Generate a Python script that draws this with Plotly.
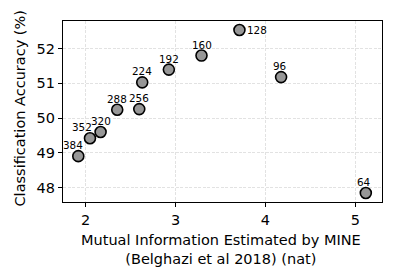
import plotly.graph_objects as go

mi = [3.711, 3.289, 2.926, 2.630, 4.174, 2.352, 2.597, 2.167, 2.049, 1.919, 5.116]
acc = [52.535, 51.80, 51.396, 51.03, 51.18, 50.24, 50.26, 49.60, 49.42, 48.905, 47.845]
labels = ["128", "160", "192", "224", "96", "288", "256", "320", "352", "384", "64"]

x_title = "Mutual Information Estimated by MINE<br>(Belghazi et al 2018) (nat)"
y_title = "Classification Accuracy (%)"

# label offsets in pixels (style only)
offsets = {"128": (18, 0), "352": (-8, 11), "384": (-5, 11), "96": (-2, 11), "64": (-2, 11)}

FONT = "DejaVu Sans"

fig = go.Figure()
fig.add_trace(go.Scatter(
    x=mi, y=acc, mode="markers",
    marker=dict(size=11, color="#979797", line=dict(color="black", width=1.6)),
    hoverinfo="skip", showlegend=False))

for xv, yv, lab in zip(mi, acc, labels):
    dx, dy = offsets.get(lab, (0, 11))
    fig.add_annotation(x=xv, y=yv, text=lab, showarrow=False,
                       xshift=dx, yshift=dy,
                       font=dict(size=10.4, color="black", family=FONT))

axis_common = dict(
    showline=True, linecolor="black", linewidth=1.3, mirror=True,
    ticks="outside", ticklen=4, tickwidth=1.1, tickcolor="black",
    showgrid=True, gridcolor="#e2e2e2", griddash="3px,1.5px", gridwidth=1,
    zeroline=False, automargin=False,
    tickfont=dict(size=14.5, family=FONT, color="black"),
)

fig.update_xaxes(range=[1.749, 5.296], tickvals=[2, 3, 4, 5], **axis_common)
fig.update_yaxes(range=[47.586, 52.795], tickvals=[48, 49, 50, 51, 52], **axis_common)

fig.add_annotation(xref="paper", yref="paper", x=0.5, y=0, text=x_title,
                   showarrow=False, xanchor="center", yanchor="middle",
                   xshift=-2, yshift=-47,
                   font=dict(size=14.5, family=FONT, color="black"))
fig.add_annotation(xref="paper", yref="paper", x=0, y=0.5, text=y_title,
                   showarrow=False, xanchor="center", yanchor="middle",
                   textangle=-90, xshift=-44, yshift=3,
                   font=dict(size=14.5, family=FONT, color="black"))

# page body has an 8px default margin, so the figure is drawn 8px in
fig.update_layout(width=391, height=269,
                  margin=dict(l=55, r=17, t=13, b=75),
                  plot_bgcolor="white", paper_bgcolor="white",
                  font=dict(family=FONT))

fig.write_html("out.html")
